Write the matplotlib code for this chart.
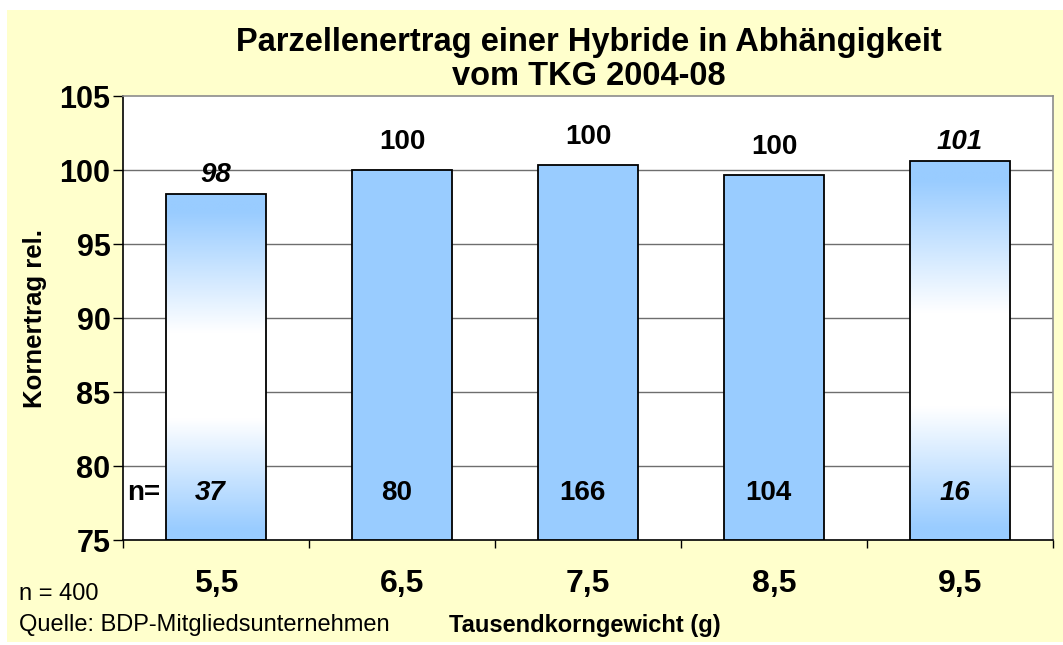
import numpy as np
import matplotlib
matplotlib.use("Agg")
import matplotlib.pyplot as plt
from matplotlib.colors import LinearSegmentedColormap
from matplotlib.patches import Rectangle

plt.rcParams['font.family'] = ['Liberation Sans', 'DejaVu Sans']

# data
tkg_labels = ["5,5", "6,5", "7,5", "8,5", "9,5"]
ertrag_rel = [98.35, 100.0, 100.35, 99.65, 100.6]
ertrag_text = ["98", "100", "100", "100", "101"]
n_werte = ["37", "80", "166", "104", "16"]
unsicher = [True, False, False, False, True]   # italic + gradient bars (small n)

blue = "#99CCFF"
yellow = "#FFFFCC"

fig = plt.figure(figsize=(10.63, 6.45), dpi=100)
fig.patch.set_facecolor("white")
fig.patches.append(Rectangle((7 / 1063, 3 / 645), 1, (642 - 10) / 645, transform=fig.transFigure,
                             facecolor=yellow, edgecolor="none", zorder=-10))

ax = fig.add_axes([123 / 1063, (645 - 540) / 645, (1053 - 123) / 1063, (540 - 96) / 645])
ax.set_facecolor("white")

x = np.arange(len(tkg_labels))
width = 0.535
grad_cmap = LinearSegmentedColormap.from_list(
    "bw", [(0, blue), (0.05, blue), (0.4, "white"), (0.65, "white"), (0.97, blue), (1, blue)])

ax.set_xlim(-0.5, len(x) - 0.5)
ax.set_ylim(75, 105)

for yv in range(80, 105, 5):
    ax.axhline(yv, color="#6e6e6e", lw=1.0, zorder=1)

bars = ax.bar(x, [v - 75 for v in ertrag_rel], width, bottom=75,
              color=[("none" if u else blue) for u in unsicher],
              edgecolor="black", linewidth=1.3, zorder=3)

grad = np.linspace(0, 1, 256).reshape(-1, 1)
for b, u in zip(bars, unsicher):
    if not u:
        continue
    x0, y0 = b.get_x(), b.get_y()
    im = ax.imshow(grad, cmap=grad_cmap, extent=(x0, x0 + b.get_width(), y0, y0 + b.get_height()),
                   aspect="auto", origin="upper", zorder=2, interpolation="bilinear")
    im.set_clip_path(b)
ax.set_xlim(-0.5, len(x) - 0.5)
ax.set_ylim(75, 105)

for xi, v, t, u in zip(x, ertrag_rel, ertrag_text, unsicher):
    ax.annotate(t, (xi, v), xytext=(0, 14 if u else 20), textcoords="offset points",
                ha="center", va="center", fontsize=20, fontweight="bold",
                style="italic" if u else "normal", zorder=5)
    ax.annotate(n_werte[xi], (xi, 78.2), xytext=(-4, 0), textcoords="offset points",
                ha="center", va="center", fontsize=20, fontweight="bold",
                style="italic" if u else "normal", zorder=5)

ax.text(0.004, 78.2, "n=", transform=ax.get_yaxis_transform(), ha="left", va="center",
        fontsize=20, fontweight="bold", zorder=5)

# axes styling
for s in ["top", "right"]:
    ax.spines[s].set_color("#8c8c8c")
    ax.spines[s].set_linewidth(1.2)
for s in ["left", "bottom"]:
    ax.spines[s].set_color("black")
    ax.spines[s].set_linewidth(1.2)

ax.set_yticks(range(75, 106, 5))
ax.tick_params(axis="y", direction="out", length=7, width=1, labelsize=22, pad=2)
for lab in ax.get_yticklabels():
    lab.set_fontweight("bold")

ax.set_xticks(x)
ax.set_xticklabels(tkg_labels, fontsize=23, fontweight="bold")
ax.tick_params(axis="x", which="major", length=0, pad=21)
ax.set_xticks(np.arange(-0.5, len(x), 1.0), minor=True)
ax.tick_params(axis="x", which="minor", direction="out", length=6, width=1)

ax.set_ylabel("Kornertrag rel.", fontsize=18.5, fontweight="bold")
ax.yaxis.set_label_coords(-0.082, 0.5)

fig.text(589 / 1063, 1 - 51 / 645, "Parzellenertrag einer Hybride in Abhängigkeit",
         ha="center", va="baseline", fontsize=23.5, fontweight="bold")
fig.text(589 / 1063, 1 - 85 / 645, "vom TKG 2004-08",
         ha="center", va="baseline", fontsize=23.5, fontweight="bold")

fig.text(585 / 1063, 1 - 632 / 645, "Tausendkorngewicht (g)", ha="center", va="baseline",
         fontsize=17, fontweight="bold")
fig.text(19 / 1063, 1 - 600 / 645, "n = 400", ha="left", va="baseline", fontsize=17)
fig.text(19 / 1063, 1 - 631 / 645, "Quelle: BDP-Mitgliedsunternehmen", ha="left", va="baseline", fontsize=17)

fig.savefig("out.png", dpi=100)
